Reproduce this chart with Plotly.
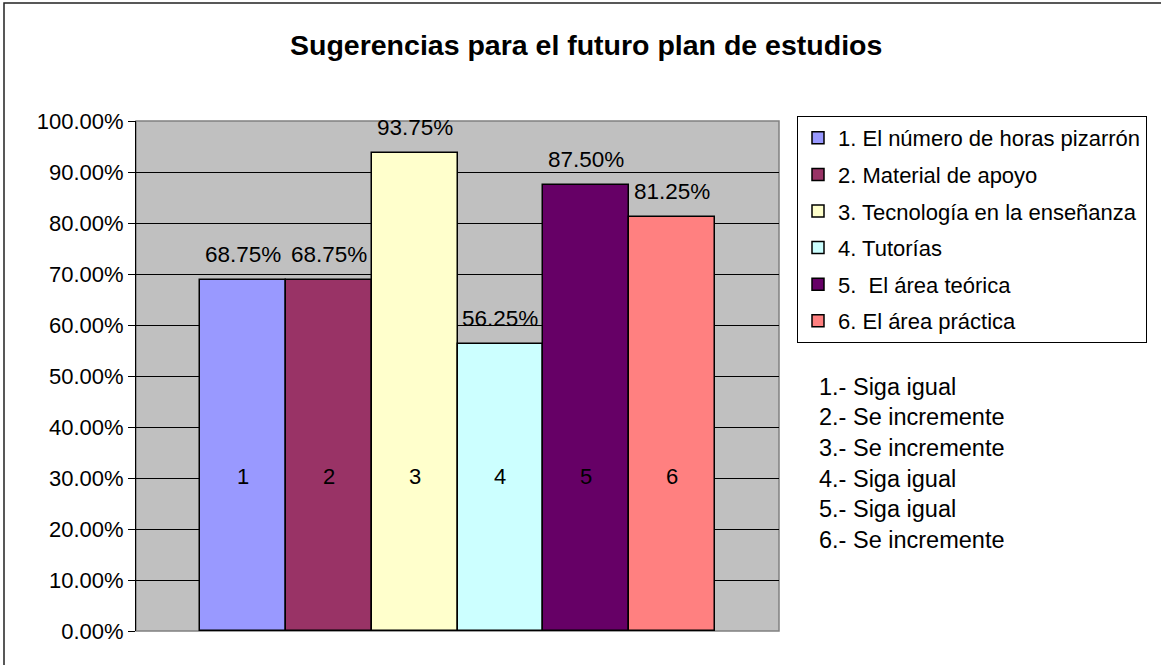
import plotly.graph_objects as go

# ---- data ----
series_names = [
    "1. El número de horas pizarrón",
    "2. Material de apoyo",
    "3. Tecnología en la enseñanza",
    "4. Tutorías",
    "5.  El área teórica",
    "6. El área práctica",
]
bar_labels = ["1", "2", "3", "4", "5", "6"]
values = [0.6875, 0.6875, 0.9375, 0.5625, 0.875, 0.8125]
colors = ["#9999FF", "#993366", "#FFFFCC", "#CCFFFF", "#660066", "#FF8080"]
notes = [
    "1.- Siga igual",
    "2.- Se incremente",
    "3.- Se incremente",
    "4.- Siga igual",
    "5.- Siga igual",
    "6.- Se incremente",
]
title_text = "Sugerencias para el futuro plan de estudios"
y_ticks = [i / 10 for i in range(11)]

FONT = "Liberation Sans, Arial, sans-serif"
W, H = 1161, 665
L, R, T, B = 136, 382, 121, 34

pw = W - L - R
ph = H - T - B


def px_x(px):
    return (px - L) / pw


def px_y(py):
    return (H - B - py) / ph


fig = go.Figure()
for i, (name, v, c) in enumerate(zip(series_names, values, colors)):
    fig.add_trace(go.Bar(
        x=[i + 1], y=[v], name=name, width=1,
        marker=dict(color=c, line=dict(color="black", width=1.5)),
        legendgroup=str(i), hoverinfo="name+y",
    ))
    # value label above bar
    fig.add_annotation(x=i + 1, y=v, text=f"{v*100:.2f}%", showarrow=False,
                       yanchor="bottom", yshift=11, xref="x", yref="y",
                       font=dict(family=FONT, size=22.5, color="black"))
    # number inside bar
    fig.add_annotation(x=i + 1, y=0.303, text=bar_labels[i], showarrow=False,
                       font=dict(family=FONT, size=22, color="black"),
                       xref="x", yref="y")

# notes beside chart
for j, t in enumerate(notes):
    fig.add_annotation(xref="paper", yref="paper", x=px_x(817), y=px_y(387 + j * 30.5),
                       xanchor="left", yanchor="middle", text=t, showarrow=False,
                       font=dict(family=FONT, size=23.5, color="black"))

# title
fig.add_annotation(xref="paper", yref="paper", x=px_x(586), y=px_y(45),
                   xanchor="center", yanchor="middle", text=f"<b>{title_text}</b>",
                   showarrow=False, font=dict(family=FONT, size=28.5, color="black"))

# outer chart border
fig.add_shape(type="rect", xref="paper", yref="paper",
              x0=px_x(4), x1=px_x(1163), y0=px_y(668), y1=px_y(3),
              line=dict(color="#222222", width=1.5), layer="below")
# plot area border (grey)
fig.add_shape(type="rect", xref="paper", yref="paper", x0=0, x1=1, y0=0, y1=1,
              line=dict(color="#808080", width=1.5), layer="below")

fig.update_layout(
    width=W, height=H,
    margin=dict(l=L, r=R, t=T, b=B),
    paper_bgcolor="white", plot_bgcolor="#C0C0C0",
    barmode="overlay", bargap=0,
    showlegend=True,
    legend=dict(x=px_x(797), y=px_y(116), xanchor="left", yanchor="top",
                bordercolor="black", borderwidth=1, bgcolor="white",
                font=dict(family=FONT, size=22, color="black"),
                tracegroupgap=5, traceorder="grouped", itemwidth=30),
    font=dict(family=FONT, color="black"),
)
fig.update_xaxes(range=[-0.25, 7.25], showticklabels=False, showgrid=False,
                 zeroline=False, showline=False, ticks="")
fig.update_yaxes(range=[0, 1], tickvals=y_ticks, tickformat=".2%",
                 showgrid=True, gridcolor="black", gridwidth=1,
                 showline=True, linecolor="black", linewidth=1,
                 ticks="outside", ticklen=7, tickcolor="black",
                 tickfont=dict(family=FONT, size=22, color="black"),
                 zeroline=False)

fig.write_html("out.html", config={"displayModeBar": False},
               post_script="document.body.style.margin='0px';")
